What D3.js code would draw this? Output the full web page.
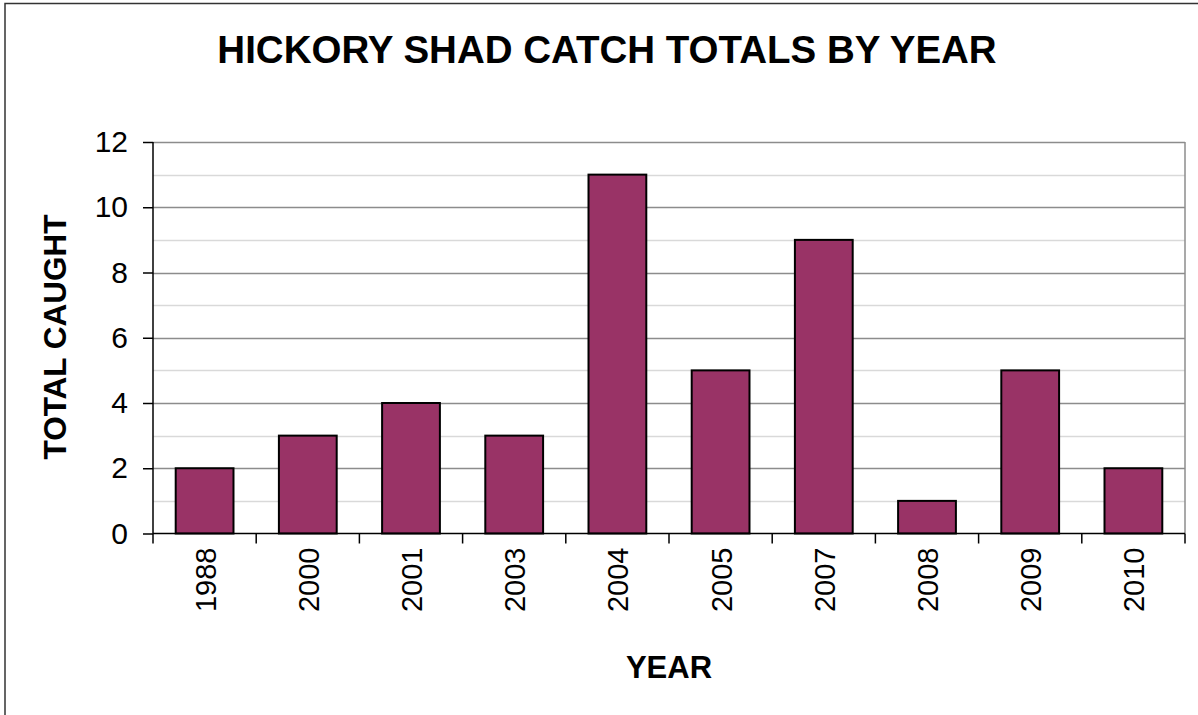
<!DOCTYPE html>
<html><head><meta charset="utf-8">
<script src="https://cdn.jsdelivr.net/npm/d3@7"></script>
<style>body{margin:0;background:#fff}svg{display:block}text{font-family:"Liberation Sans",Arial,sans-serif}</style>
</head><body><svg id="c" width="1198" height="715"></svg>
<script>
const years = ["1988","2000","2001","2003","2004","2005","2007","2008","2009","2010"];
const caught = [2,3,4,3,11,5,9,1,5,2];
const majorTicks = [0,2,4,6,8,10,12];
const minorTicks = [1,3,5,7,9,11];

const svg = d3.select("#c");
const L=153, R=1185, T=142, B=533.5;
svg.append("rect").attr("x",5).attr("y",3.5).attr("width",1200).attr("height",720).attr("fill","#fff").attr("stroke","#333").attr("stroke-width",1.5);

const x = d3.scaleBand().domain(years).range([L,R]).paddingInner(0.44).paddingOuter(0.22);
const y = d3.scaleLinear().domain([0,12]).range([B,T]);

const g = svg.append("g");
g.selectAll(".minor").data(minorTicks).join("line").attr("x1",L).attr("x2",R)
  .attr("y1",d=>Math.round(y(d))+0.5).attr("y2",d=>Math.round(y(d))+0.5).attr("stroke","#d9d9d9").attr("stroke-width",1.5);
g.selectAll(".major").data(majorTicks.filter(d=>d>0)).join("line").attr("x1",L).attr("x2",R)
  .attr("y1",d=>Math.round(y(d))+0.5).attr("y2",d=>Math.round(y(d))+0.5).attr("stroke","#8c8c8c").attr("stroke-width",1.5);
g.append("line").attr("x1",R).attr("x2",R).attr("y1",T).attr("y2",B).attr("stroke","#8c8c8c").attr("stroke-width",1.5);

g.selectAll("rect.bar").data(years).join("rect").attr("class","bar")
  .attr("x",d=>x(d)).attr("width",x.bandwidth())
  .attr("y",(d,i)=>y(caught[i])).attr("height",(d,i)=>B-y(caught[i]))
  .attr("fill","#993366").attr("stroke","#000").attr("stroke-width",2);

// y axis
const ya = svg.append("g").attr("transform",`translate(${L},0)`)
  .call(d3.axisLeft(y).tickValues(majorTicks).tickSize(10).tickPadding(15));
ya.select(".domain").attr("stroke","#000").attr("stroke-width",1.5).attr("d",`M0,${T}V${B}`);
ya.selectAll(".tick line").attr("stroke","#000").attr("stroke-width",1.5);
ya.selectAll(".tick text").attr("font-size",30).attr("fill","#000").attr("font-family","Liberation Sans, Arial, sans-serif");

// x axis
const xa = svg.append("g").attr("transform",`translate(0,${B})`);
xa.append("line").attr("x1",L).attr("x2",R).attr("stroke","#000").attr("stroke-width",1.5);
const bounds = d3.range(years.length+1).map(i=>L+i*(R-L)/years.length);
xa.selectAll(".xt").data(bounds).join("line").attr("x1",d=>d).attr("x2",d=>d).attr("y1",0).attr("y2",10).attr("stroke","#000").attr("stroke-width",1.5);
xa.selectAll(".xl").data(years).join("text")
  .attr("transform",d=>`translate(${x(d)+x.bandwidth()/2+11},14) rotate(-90)`)
  .attr("text-anchor","end").attr("font-size",29).attr("fill","#000").text(d=>d);

svg.append("text").attr("x",607).attr("y",63).attr("text-anchor","middle").attr("font-size",38.5).attr("font-weight","bold").text("HICKORY SHAD CATCH TOTALS BY YEAR");
svg.append("text").attr("transform","translate(66,337) rotate(-90)").attr("text-anchor","middle").attr("font-size",31.5).attr("font-weight","bold").text("TOTAL CAUGHT");
svg.append("text").attr("x",669).attr("y",678).attr("text-anchor","middle").attr("font-size",31).attr("font-weight","bold").text("YEAR");
</script></body></html>
